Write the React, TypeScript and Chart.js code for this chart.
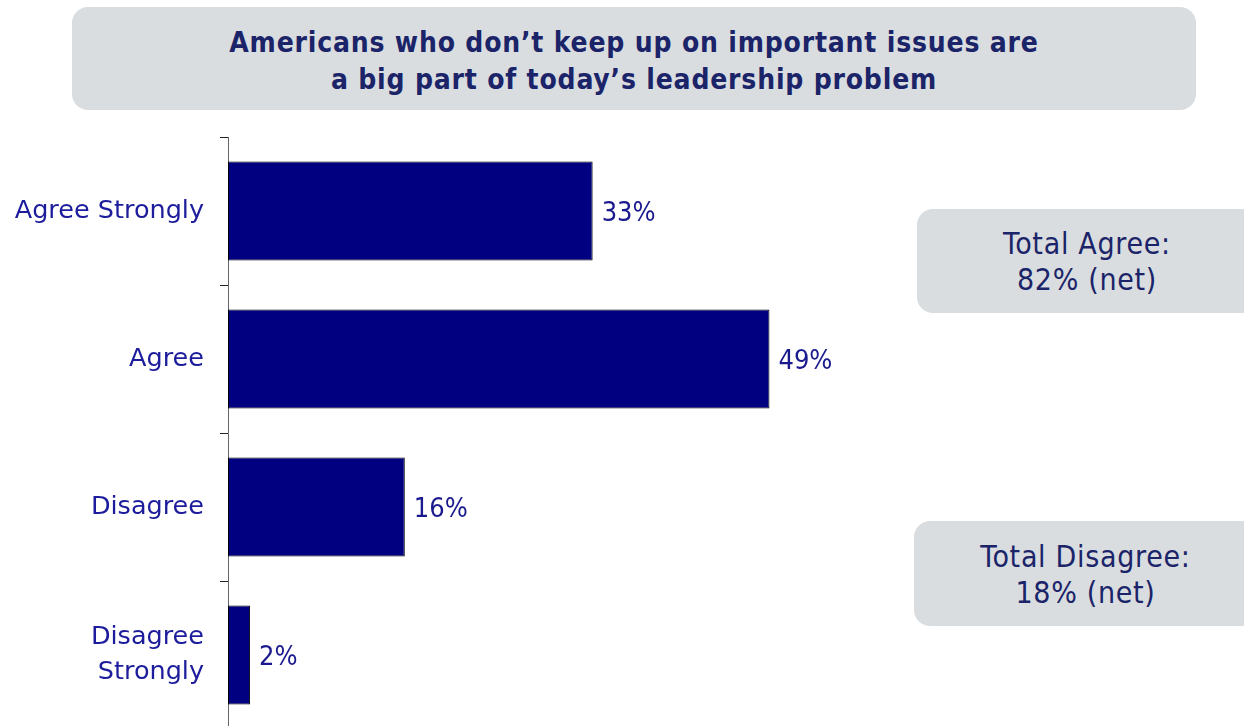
import React, { useEffect, useRef } from "react";
import { Chart, registerables } from "chart.js";

Chart.register(...registerables);

const categories: (string | string[])[] = [
  "Agree Strongly",
  "Agree",
  "Disagree",
  ["Disagree", "Strongly"],
];
const percentValues: number[] = [33, 49, 16, 2];
const titleLines: string[] = [
  "Americans who don\u2019t keep up on important issues are",
  "a big part of today\u2019s leadership problem",
];
const agreeBoxLines: string[] = ["Total Agree:", "82% (net)"];
const disagreeBoxLines: string[] = ["Total Disagree:", "18% (net)"];

const BOX_BG = "#d9dde0";
const TEXT_DARK = "#1b2468";
const LABEL_BLUE = "#1a1a8e";
const CAT_BLUE = "#1c1c9c";
const BAR_NAVY = "#000080";
const COND = "'DejaVu Sans Condensed', 'DejaVu Sans', sans-serif";
const SANS = "'DejaVu Sans', sans-serif";

const valueLabelPlugin = {
  id: "valueLabels",
  afterDatasetsDraw(chart: any) {
    const ctx = chart.ctx;
    const meta = chart.getDatasetMeta(0);
    ctx.save();
    ctx.fillStyle = LABEL_BLUE;
    ctx.font = `27px ${COND}`;
    ctx.textAlign = "left";
    ctx.textBaseline = "middle";
    meta.data.forEach((bar: any, i: number) => {
      ctx.fillText(`${percentValues[i]}%`, bar.x + 9, bar.y + 3);
    });
    ctx.restore();
  },
};

function Box(props: { left: number; top: number; width: number; height: number; lines: string[]; size: number; bold?: boolean; lineHeight: number; radius: number; spacing: number; shift: number }) {
  return (
    <div
      style={{
        position: "absolute",
        left: props.left,
        top: props.top,
        width: props.width,
        height: props.height,
        boxSizing: "border-box",
        paddingTop: props.shift,
        background: BOX_BG,
        borderRadius: props.radius,
        display: "flex",
        flexDirection: "column",
        justifyContent: "center",
        alignItems: "center",
        color: TEXT_DARK,
        fontFamily: COND,
        fontSize: props.size,
        fontWeight: props.bold ? 700 : 400,
        letterSpacing: props.spacing,
        lineHeight: `${props.lineHeight}px`,
        whiteSpace: "nowrap",
      }}
    >
      {props.lines.map((l, i) => (
        <div key={i}>{l}</div>
      ))}
    </div>
  );
}

export default function App() {
  const canvasRef = useRef<HTMLCanvasElement | null>(null);

  useEffect(() => {
    document.body.style.margin = "0";
    document.body.style.overflow = "hidden";
    const canvas = canvasRef.current;
    if (!canvas) return;
    const chart = new Chart(canvas, {
      type: "bar",
      data: {
        labels: categories as any,
        datasets: [
          {
            data: percentValues,
            backgroundColor: BAR_NAVY,
            borderColor: "#000000",
            borderWidth: 1,
            borderSkipped: false,
            categoryPercentage: 1,
            barPercentage: 0.67,
          },
        ],
      },
      options: {
        indexAxis: "y",
        animation: false,
        responsive: false,
        maintainAspectRatio: false,
        devicePixelRatio: 1,
        layout: { padding: { top: 137, bottom: 11, left: 0, right: 353 } },
        plugins: { legend: { display: false }, tooltip: { enabled: false } },
        scales: {
          x: { display: false, min: 0, max: 60 },
          y: {
            afterFit: (scale: any) => {
              scale.width = 228;
              scale.paddingTop = 0;
              scale.paddingBottom = 0;
            },
            grid: {
              drawOnChartArea: false,
              drawTicks: true,
              tickLength: 8,
              color: "#222222",
              lineWidth: 1,
            },
            border: { display: true, color: "#666666", width: 1 },
            ticks: {
              color: CAT_BLUE,
              padding: 16,
              font: { family: SANS, size: 25.5, lineHeight: 1.37 },
            } as any,
          },
        },
      },
      plugins: [valueLabelPlugin],
    });
    return () => chart.destroy();
  }, []);

  return (
    <div style={{ position: "relative", width: 1244, height: 726, overflow: "hidden", background: "#fff" }}>
      <canvas ref={canvasRef} width={1244} height={740} style={{ position: "absolute", left: 0, top: 0, width: 1244, height: 740 }} />
      <Box left={72} top={7} width={1124} height={103} lines={titleLines} size={28} bold lineHeight={37} radius={16} spacing={0.8} shift={5} />
      <Box left={917} top={209} width={340} height={104} lines={agreeBoxLines} size={30} lineHeight={36} radius={16} spacing={0.7} shift={2} />
      <Box left={914} top={521} width={343} height={105} lines={disagreeBoxLines} size={30} lineHeight={36} radius={16} spacing={0.7} shift={2} />
    </div>
  );
}
